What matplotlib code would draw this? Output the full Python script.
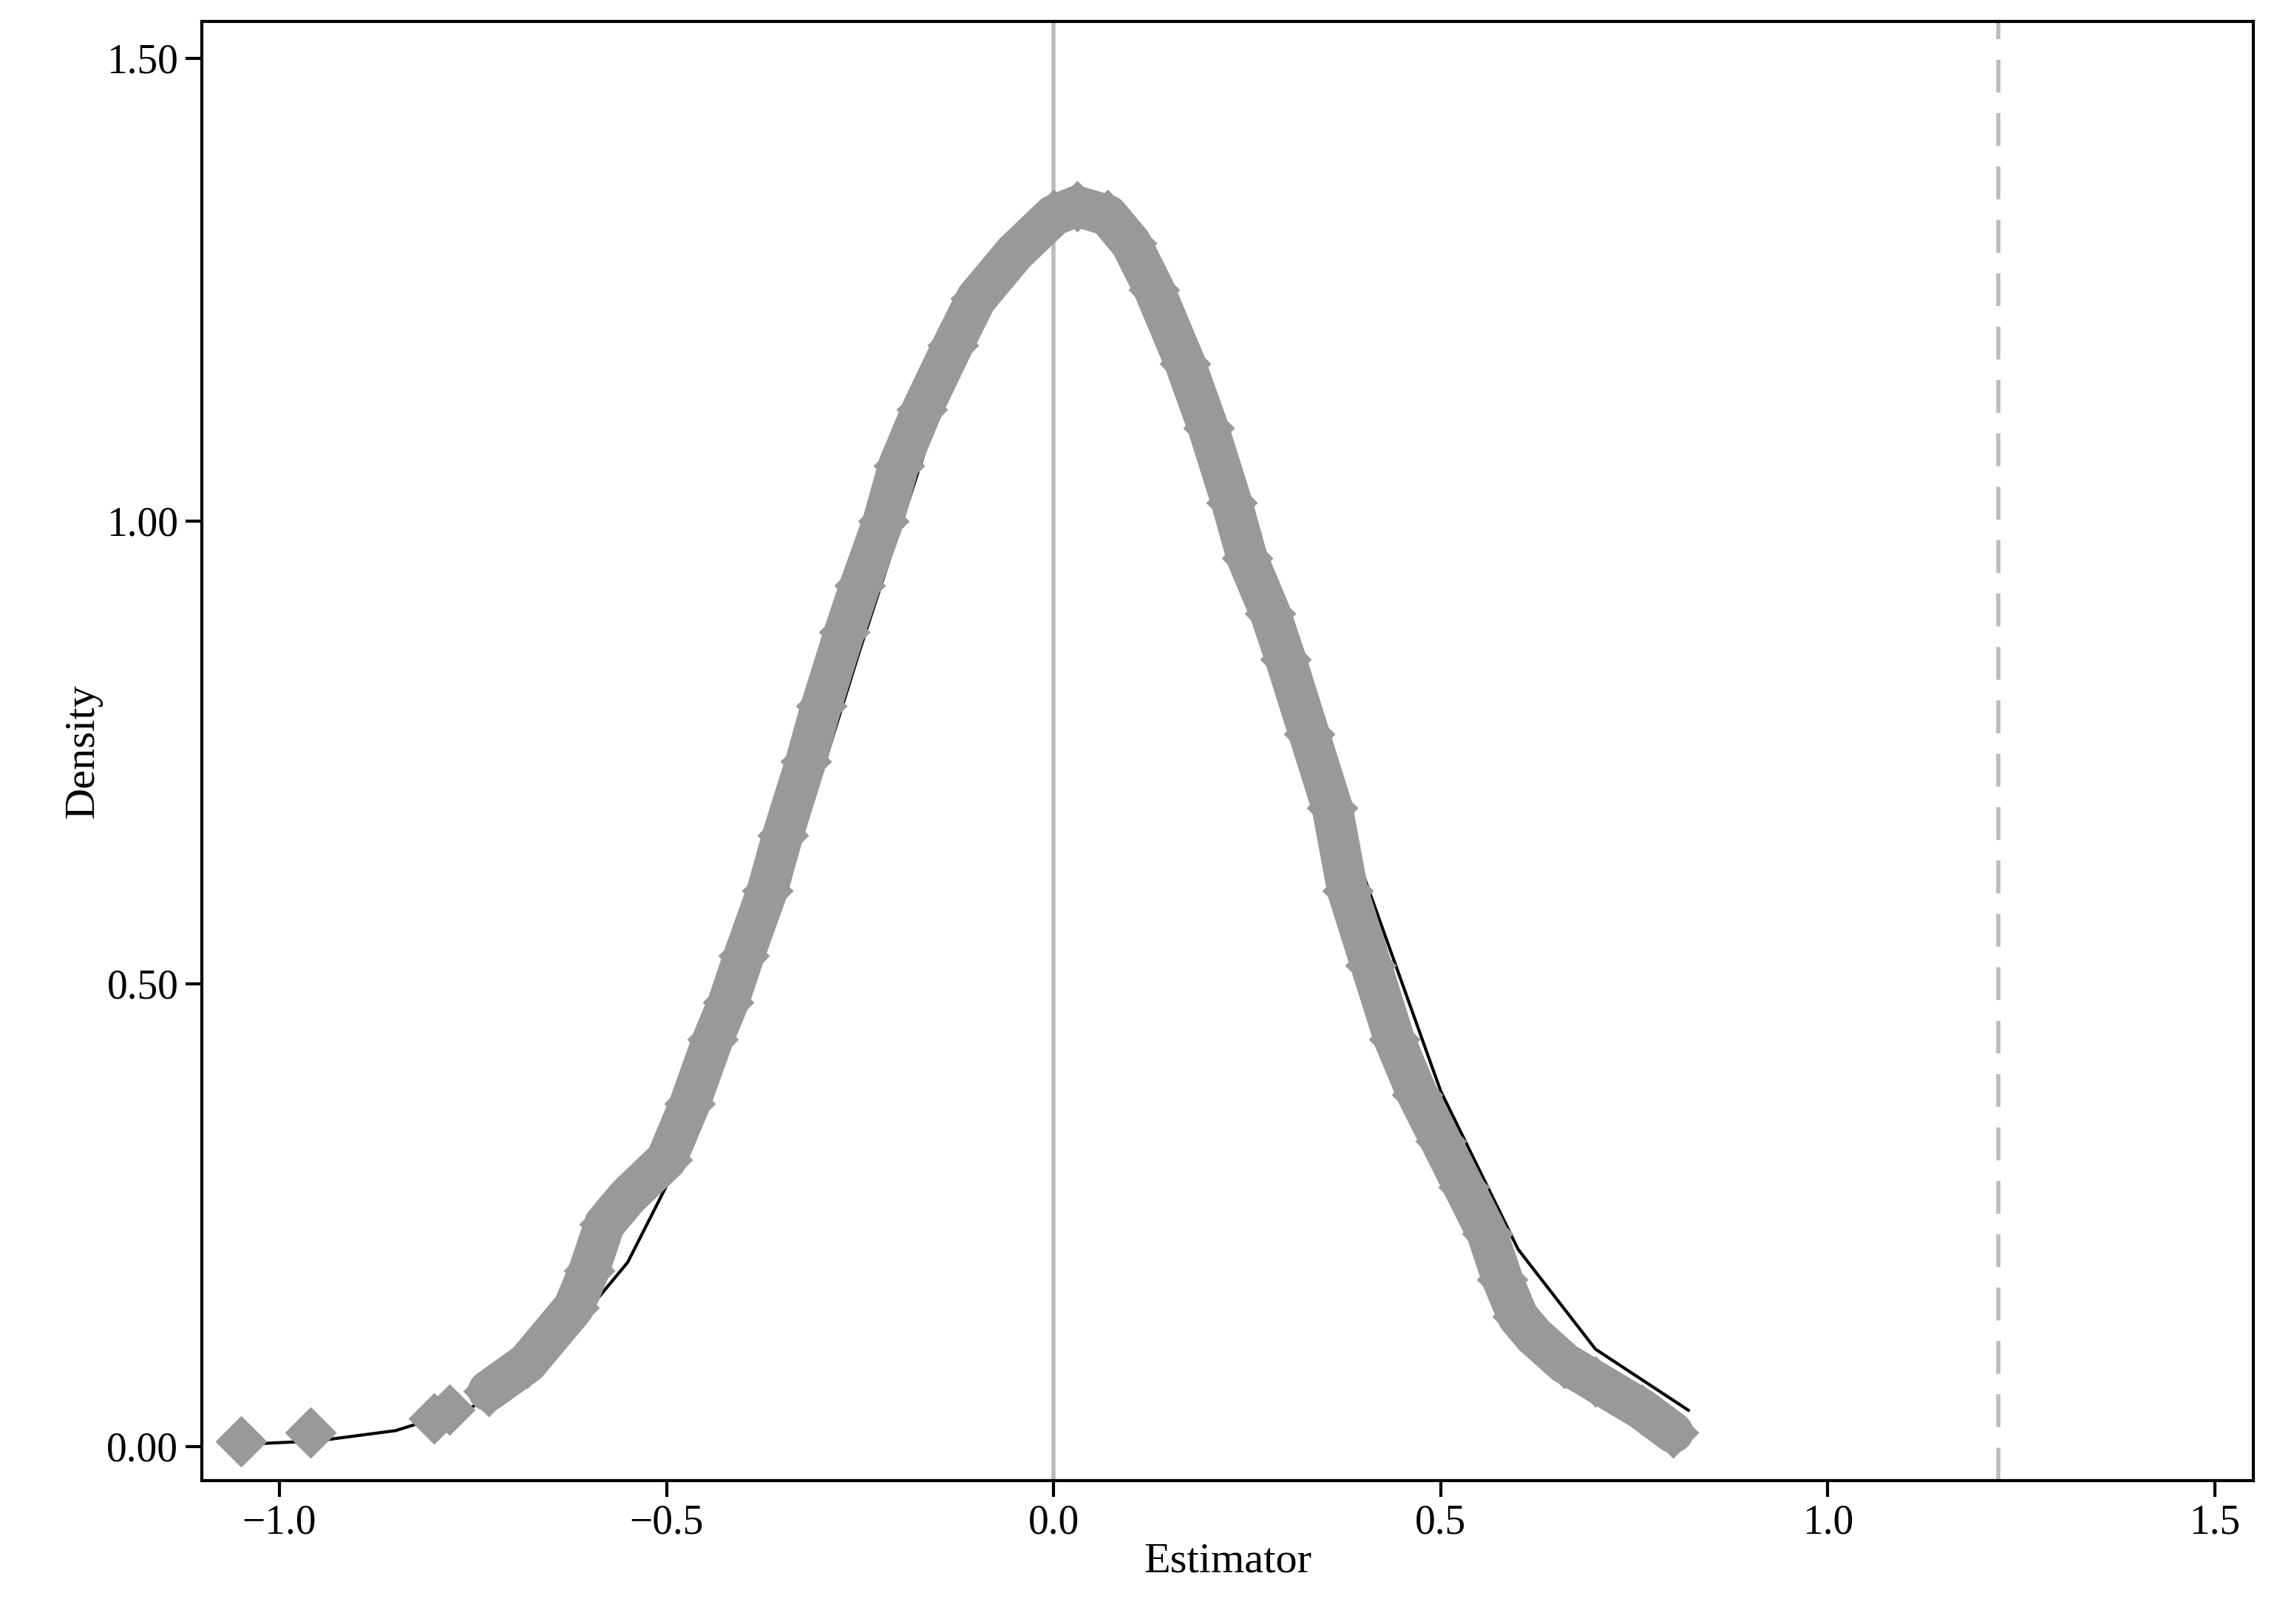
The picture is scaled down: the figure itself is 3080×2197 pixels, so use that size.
import matplotlib
matplotlib.use("Agg")
import matplotlib.pyplot as plt
from matplotlib.ticker import FormatStrFormatter

# Kernel density of placebo estimators (gray diamonds)
kd_x = [-1.05,-0.96,-0.80,-0.78,-0.73,-0.68,-0.65,-0.62,-0.60,-0.58,-0.55,-0.50,-0.47,-0.44,-0.42,-0.40,
        -0.37,-0.35,-0.32,-0.30,-0.27,-0.25,-0.22,-0.20,-0.17,-0.13,-0.10,-0.05,0.00,0.03,0.07,0.10,0.13,
        0.17,0.20,0.23,0.25,0.28,0.30,0.33,0.36,0.38,0.41,0.44,0.47,0.50,0.53,0.56,0.58,0.60,0.62,0.66,
        0.70,0.76,0.80]
kd_y = [0.005,0.015,0.03,0.04,0.06,0.09,0.12,0.15,0.19,0.24,0.27,0.31,0.37,0.44,0.48,0.53,
        0.60,0.66,0.74,0.80,0.88,0.93,1.00,1.06,1.12,1.19,1.24,1.29,1.33,1.34,1.33,1.30,1.25,
        1.17,1.10,1.02,0.96,0.90,0.85,0.77,0.69,0.60,0.52,0.44,0.38,0.33,0.28,0.23,0.18,0.14,0.12,0.09,
        0.07,0.04,0.015]
# Normal reference density (black line)
nd_x = [-1.05,-0.95,-0.85,-0.75,-0.65,-0.55,-0.45,-0.35,-0.25,-0.15,-0.05,0.03,0.10,0.20,0.30,0.40,
        0.50,0.60,0.70,0.82]
nd_y = [0.002,0.006,0.017,0.043,0.098,0.199,0.364,0.593,0.861,1.117,1.295,1.343,1.306,1.140,0.889,0.618,
        0.384,0.213,0.105,0.039]
true_effect = 1.22

plt.rcParams['font.family'] = ['Liberation Serif']
plt.rcParams['axes.unicode_minus'] = True
fig = plt.figure(figsize=(15.4, 10.985), dpi=200)
ax = fig.add_axes([0.0887, 0.0883, 0.901, 0.8987])
n_tail = 4
ax.plot(kd_x[n_tail:], kd_y[n_tail:], color='#999999', lw=20, solid_capstyle='round', zorder=2)
ax.plot(kd_x, kd_y, 'D', color='#999999', ms=17, zorder=2)
ax.plot(nd_x, nd_y, color='black', lw=1.5, zorder=1)
ax.axvline(0, color='#bbbbbb', lw=2, zorder=0)
ax.axvline(true_effect, color='#bbbbbb', lw=2, ls=(0, (8, 5)), zorder=0)
ax.set_xlim(-1.10, 1.55)
ax.set_ylim(-0.037, 1.54)
ax.set_xticks([-1.0, -0.5, 0.0, 0.5, 1.0, 1.5])
ax.set_xticklabels(['\u22121.0', '\u22120.5', '0.0', '0.5', '1.0', '1.5'])
ax.set_yticks([0, 0.5, 1.0, 1.5])
ax.yaxis.set_major_formatter(FormatStrFormatter('%.2f'))
ax.tick_params(labelsize=20, length=8, width=1.5)
for s in ax.spines.values():
    s.set_linewidth(1.5)
ax.set_xlabel('Estimator', fontsize=21, labelpad=0)
ax.set_ylabel('Density', fontsize=21, labelpad=2)
fig.savefig('out.png', dpi=200)
